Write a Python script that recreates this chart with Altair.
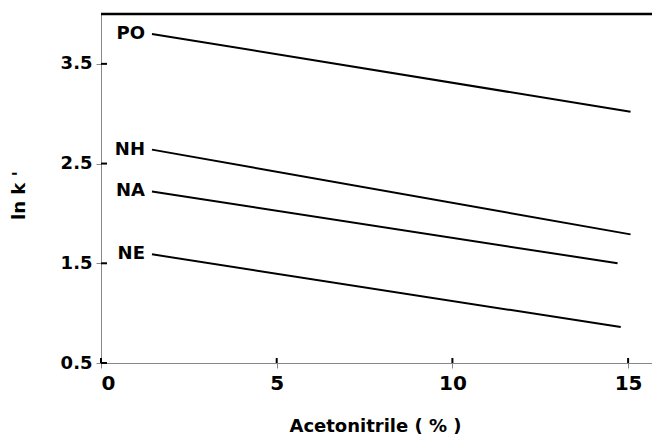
import altair as alt
import pandas as pd

# Data
series = ["PO", "NH", "NA", "NE"]
x_start = [1.45, 1.45, 1.45, 1.45]
x_end = [15.07, 15.07, 14.7, 14.79]
y_start = [3.80, 2.64, 2.22, 1.59]
y_end = [3.02, 1.79, 1.50, 0.86]

x_ticks = [0, 5, 10, 15]
y_ticks = [0.5, 1.5, 2.5, 3.5]
x_domain = [0, 15.68]
y_domain = [0.5, 4.0]

FONT = "DejaVu Sans"
W, H = 551, 349

rows = []
for s, xs, xe, ys, ye in zip(series, x_start, x_end, y_start, y_end):
    rows.append({"series": s, "x": xs, "y": ys, "order": 0})
    rows.append({"series": s, "x": xe, "y": ye, "order": 1})
df = pd.DataFrame(rows)
labels_df = pd.DataFrame({"series": series, "x": x_start, "y": y_start})

xscale = alt.Scale(domain=x_domain, nice=False, zero=False)
yscale = alt.Scale(domain=y_domain, nice=False, zero=False)

xaxis = alt.Axis(values=x_ticks, title="Acetonitrile  ( % )", grid=False,
                 labelFont=FONT, labelFontWeight="bold", labelFontSize=20,
                 titleFont=FONT, titleFontWeight="bold", titleFontSize=18,
                 labelPadding=5, titleY=68, titleBaseline="alphabetic", titleX=274)
yaxis = alt.Axis(values=y_ticks, format=".1f", title="ln  k '", grid=False,
                 labelFont=FONT, labelFontWeight="bold", labelFontSize=18,
                 titleFont=FONT, titleFontWeight="bold", titleFontSize=18,
                 labelPadding=4, titleX=-82, titleY=181, titleBaseline="middle")

lines = alt.Chart(df).mark_line(color="black", strokeWidth=2).encode(
    x=alt.X("x:Q", scale=xscale, axis=xaxis),
    y=alt.Y("y:Q", scale=yscale, axis=yaxis),
    detail="series:N",
    order="order:Q",
)

texts = alt.Chart(labels_df).mark_text(
    align="right", baseline="middle", dx=-7, dy=0, font=FONT,
    fontSize=18, fontWeight="bold", color="black"
).encode(x=alt.X("x:Q", scale=xscale), y=alt.Y("y:Q", scale=yscale), text="series:N")

top_border = alt.Chart(pd.DataFrame({"a": [0]})).mark_rule(
    color="black", strokeWidth=2.5
).encode(x=alt.datum(x_domain[0]), x2=alt.datum(x_domain[1]), y=alt.datum(y_domain[1]))

xt_in = alt.Chart(pd.DataFrame({"t": x_ticks})).mark_rule(color="black", strokeWidth=2).encode(
    x=alt.X("t:Q", scale=xscale), y=alt.value(H - 5), y2=alt.value(H)
)
yt_in = alt.Chart(pd.DataFrame({"t": y_ticks})).mark_rule(color="black", strokeWidth=2).encode(
    y=alt.Y("t:Q", scale=yscale), x=alt.value(0), x2=alt.value(6)
)

chart = alt.layer(lines, texts, top_border, xt_in, yt_in).properties(
    width=W, height=H,
    autosize=alt.AutoSizeParams(type="none"),
    padding={"left": 93, "top": 6, "right": 0, "bottom": 76},
).configure_view(stroke=None).configure_axis(
    domainColor="black", domainWidth=2.5, tickColor="black", tickWidth=2,
    tickSize=7, labelColor="black", titleColor="black",
).configure(background="white")

chart.save("out.html", embed_options={"renderer": "svg", "actions": False})
